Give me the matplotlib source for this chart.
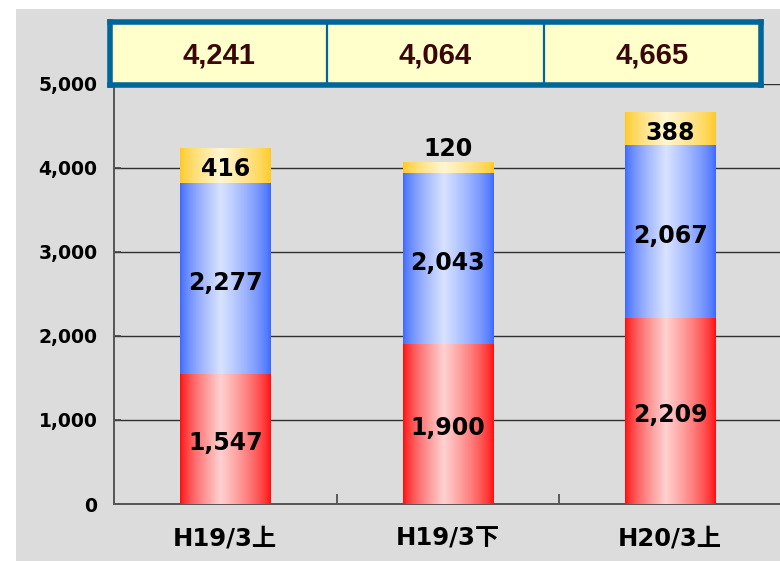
import numpy as np
import matplotlib
matplotlib.use("Agg")
import matplotlib.pyplot as plt
from matplotlib.patches import Rectangle

# ---------------- data ----------------
categories = ["H19/3上", "H19/3下", "H20/3上"]
red_vals = [1547, 1900, 2209]
blue_vals = [2277, 2043, 2067]
yellow_vals = [416, 120, 388]
totals = [4241, 4064, 4665]
y_ticks = [0, 1000, 2000, 3000, 4000, 5000]
small_threshold = 200

# ---------------- styles ----------------
W, H = 780, 561
fig = plt.figure(figsize=(W / 100, H / 100), dpi=100, facecolor="white")
# gray background panel (white margin top/left)
fig.patches.append(Rectangle((16 / W, 0), 1 - 16 / W, 1 - 9 / H,
                             transform=fig.transFigure, facecolor="#dcdcdc",
                             edgecolor="none", zorder=-10))

ax_left, ax_bottom = 114 / W, 57 / H
ax_w, ax_h = 667.5 / W, 420 / H
ax = fig.add_axes([ax_left, ax_bottom, ax_w, ax_h])
ax.set_facecolor("none")
ax.set_xlim(-0.5, 2.5)
ax.set_ylim(0, 5000)

x = np.arange(len(categories))
bar_w = 0.405


def gradient_img(c_edge, c_mid, n=256, peak=0.45):
    t = np.linspace(0, 1, n)
    f = np.where(t < peak, t / peak, (1 - t) / (1 - peak))
    f = np.clip(f, 0, 1) ** 0.7
    c_edge = np.array(matplotlib.colors.to_rgb(c_edge))
    c_mid = np.array(matplotlib.colors.to_rgb(c_mid))
    row = c_edge[None, :] * (1 - f[:, None]) + c_mid[None, :] * f[:, None]
    return row[None, :, :]


series = [
    (red_vals, ("#ff0a0a", "#ffd0d0")),
    (blue_vals, ("#3a66ff", "#d8e2ff")),
    (yellow_vals, ("#ffc820", "#fff6d2")),
]

label_font = dict(fontsize=17, fontweight="bold", color="black", zorder=5,
                  family=["DejaVu Sans"])

bottoms = np.zeros(len(categories))
for vals, (c_edge, c_mid) in series:
    bars = ax.bar(x, vals, bar_w, bottom=bottoms, color="none",
                  edgecolor="none", zorder=3)
    img = gradient_img(c_edge, c_mid)
    for i, rect in enumerate(bars):
        x0, y0 = rect.get_x(), rect.get_y()
        ax.imshow(img, extent=(x0, x0 + rect.get_width(), y0, y0 + rect.get_height()),
                  aspect="auto", zorder=3, interpolation="bilinear")
        v = vals[i]
        if v < small_threshold:
            ax.annotate(f"{v:,}", (x[i], y0 + rect.get_height()),
                        xytext=(0, 1.5), textcoords="offset points",
                        ha="center", va="bottom", **label_font)
        else:
            ax.annotate(f"{v:,}", (x[i], y0 + rect.get_height() / 2),
                        xytext=(0, -3), textcoords="offset points",
                        ha="center", va="center", **label_font)
    bottoms = bottoms + np.array(vals)

ax.set_xlim(-0.5, 2.5)
ax.set_ylim(0, 5000)

# grid
for yv in y_ticks[1:]:
    ax.axhline(yv, color="#303030", lw=1.0, zorder=1)

# spines
for s in ["top", "right"]:
    ax.spines[s].set_visible(False)
for s in ["left", "bottom"]:
    ax.spines[s].set_color("#555555")
    ax.spines[s].set_linewidth(1.4)

ax.set_yticks(y_ticks)
ax.set_yticklabels([f"{v:,}" for v in y_ticks])
ax.tick_params(axis="y", direction="in", length=5, width=1.2, color="#444444",
               pad=12, labelsize=13.5)
for lab in ax.get_yticklabels():
    lab.set_fontweight("bold")

ax.set_xticks(x)
ax.set_xticklabels(categories)
ax.set_xticks([0.5, 1.5], minor=True)
ax.tick_params(axis="x", which="major", length=0, pad=16)
ax.tick_params(axis="x", which="minor", direction="in", length=7, width=1.2,
               color="#444444")
for lab in ax.get_xticklabels():
    lab.set_family(["DejaVu Sans", "Noto Sans CJK JP"])
    lab.set_fontweight("bold")
    lab.set_fontsize(17.5)

# ---------------- totals box ----------------
bx0, by0, bx1, by1 = 110, 22, 761, 85
bax = fig.add_axes([bx0 / W, 1 - by1 / H, (bx1 - bx0) / W, (by1 - by0) / H])
bax.set_facecolor("#ffffcc")
bax.set_xlim(0, len(totals))
bax.set_ylim(0, 1)
bax.set_xticks([])
bax.set_yticks([])
for s in bax.spines.values():
    s.set_color("#006699")
    s.set_linewidth(4)
for k in range(1, len(totals)):
    bax.axvline(k, color="#006699", lw=1.6)
for i, t in enumerate(totals):
    bax.text(i + 0.5, 0.47, f"{t:,}", ha="center", va="center",
             fontsize=21, color="#3a0606", fontweight="bold",
             family=["Liberation Sans", "DejaVu Sans"])

fig.savefig("out.png", dpi=100, facecolor=fig.get_facecolor())
